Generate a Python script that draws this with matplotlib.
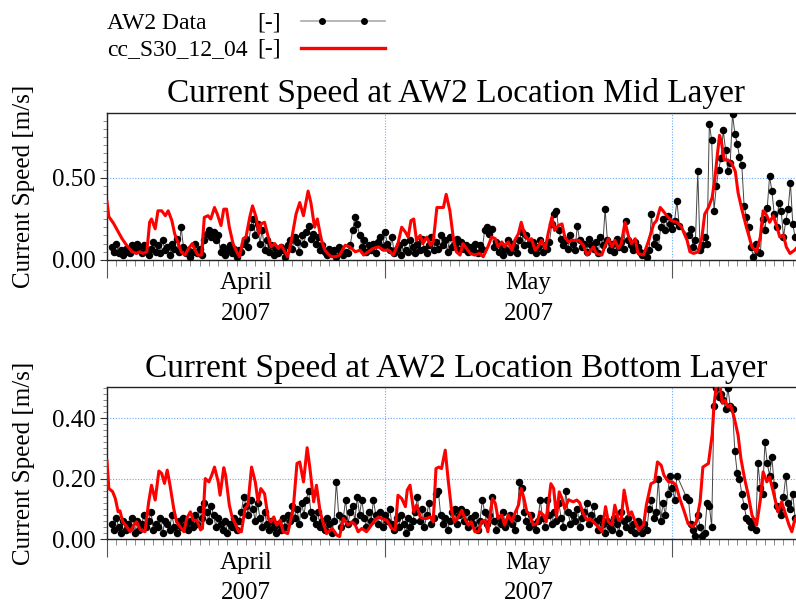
import numpy as np
import matplotlib
matplotlib.use("Agg")
import matplotlib.pyplot as plt
from matplotlib.ticker import MultipleLocator, FixedLocator, NullFormatter, FormatStrFormatter
from matplotlib.lines import Line2D

plt.rcParams['font.family'] = ['Liberation Serif', 'DejaVu Serif']

# ---------------- data (days since 2007-04-01) ----------------
month_starts = [0, 30, 61]
month_centers = [15, 45.5]
month_labels = ["April\n2007", "May\n2007"]

legend_obs = "AW2 Data"
legend_mod = "cc_S30_12_04"
legend_unit = "[-]"

titles = ["Current Speed at AW2 Location Mid Layer",
          "Current Speed at AW2 Location Bottom Layer"]
ylabel = "Current Speed [m/s]"

# model (red line): (day, speed)
model_mid = [
    (0.0, 0.355), (0.2, 0.264), (0.7, 0.224), (1.1, 0.183), (1.6, 0.132), (2.1, 0.091), (2.7, 0.05),
    (3.2, 0.04), (3.5, 0.05), (3.9, 0.04), (4.3, 0.05), (4.6, 0.23), (4.8, 0.25), (5.2, 0.19),
    (5.5, 0.30), (5.9, 0.30), (6.3, 0.27), (6.6, 0.30), (7.0, 0.24), (7.3, 0.16), (7.7, 0.10),
    (8.0, 0.05), (8.4, 0.03), (8.8, 0.07), (9.2, 0.10), (9.5, 0.06), (9.8, 0.03), (10.2, 0.03),
    (10.5, 0.26), (10.9, 0.27), (11.2, 0.25), (11.6, 0.32), (11.9, 0.28), (12.3, 0.21), (12.6, 0.31),
    (12.9, 0.31), (13.2, 0.20), (13.6, 0.10), (14.0, 0.05), (14.3, 0.02), (14.7, 0.13), (15.0, 0.14),
    (15.4, 0.26), (15.7, 0.33), (16.1, 0.26), (16.4, 0.16), (16.6, 0.22), (17.0, 0.23), (17.4, 0.14),
    (17.7, 0.08), (18.1, 0.10), (18.5, 0.07), (18.8, 0.09), (19.2, 0.05), (19.5, 0.02), (19.9, 0.12),
    (20.4, 0.28), (20.8, 0.35), (21.2, 0.27), (21.7, 0.42), (22.0, 0.35), (22.4, 0.20), (22.7, 0.25),
    (23.1, 0.13), (23.5, 0.06), (23.8, 0.04), (24.2, 0.02), (24.7, 0.02), (25.1, 0.03), (25.7, 0.09),
    (26.2, 0.08), (26.8, 0.05), (27.3, 0.06), (27.7, 0.03), (28.2, 0.05), (28.7, 0.07), (29.3, 0.08),
    (29.8, 0.06), (30.4, 0.06), (30.9, 0.03), (31.4, 0.10), (31.8, 0.20), (32.2, 0.17), (32.5, 0.14),
    (32.8, 0.24), (33.1, 0.25), (33.4, 0.12), (33.8, 0.15), (34.1, 0.10), (34.5, 0.14), (34.9, 0.09),
    (35.2, 0.11), (35.6, 0.32), (35.9, 0.32), (36.3, 0.32), (36.6, 0.40), (37.0, 0.30), (37.4, 0.12),
    (37.7, 0.05), (38.1, 0.03), (38.4, 0.10), (38.8, 0.07), (39.2, 0.04), (39.7, 0.03), (40.2, 0.04),
    (40.6, 0.02), (41.1, 0.08), (41.5, 0.14), (41.9, 0.13), (42.2, 0.08), (42.6, 0.11), (42.9, 0.08),
    (43.3, 0.11), (43.7, 0.06), (44.0, 0.12), (44.4, 0.16), (44.7, 0.23), (45.1, 0.15), (45.5, 0.12),
    (45.8, 0.13), (46.2, 0.06), (46.5, 0.08), (46.9, 0.12), (47.3, 0.07), (47.6, 0.16), (48.0, 0.26),
    (48.3, 0.18), (48.7, 0.21), (49.1, 0.22), (49.4, 0.14), (49.8, 0.11), (50.1, 0.12), (50.9, 0.12),
    (51.4, 0.09), (51.8, 0.03), (52.1, 0.05), (52.5, 0.08), (52.8, 0.04), (53.4, 0.03), (53.7, 0.08),
    (54.1, 0.13), (54.5, 0.08), (54.8, 0.12), (55.2, 0.07), (55.5, 0.10), (55.9, 0.23), (56.3, 0.14),
    (56.6, 0.10), (57.0, 0.13), (57.3, 0.04), (57.9, 0.03), (58.4, 0.11), (59.0, 0.22), (59.3, 0.24),
    (59.7, 0.32), (60.0, 0.30), (60.4, 0.27), (60.9, 0.24), (61.5, 0.23), (62.0, 0.20), (62.6, 0.12),
    (62.9, 0.05), (63.3, 0.04), (63.8, 0.05), (64.2, 0.14), (64.5, 0.28), (64.9, 0.32), (65.3, 0.38),
    (65.6, 0.50), (65.9, 0.66), (66.1, 0.76), (66.3, 0.72), (66.6, 0.61), (67.0, 0.61), (67.4, 0.59),
    (67.8, 0.54), (68.1, 0.41), (68.5, 0.31), (69.0, 0.20), (69.6, 0.08), (70.1, 0.05), (70.5, 0.14),
    (70.8, 0.30), (71.2, 0.27), (71.5, 0.23), (71.9, 0.27), (72.3, 0.20), (72.6, 0.14), (73.0, 0.15),
    (73.3, 0.08), (73.7, 0.04), (74.2, 0.06), (74.5, 0.08),
]

model_bot = [
    (0.0, 0.258), (0.2, 0.167), (0.6, 0.157), (0.9, 0.134), (1.2, 0.09), (1.4, 0.093), (1.7, 0.057),
    (2.0, 0.046), (2.5, 0.024), (2.9, 0.046), (3.2, 0.057), (3.6, 0.03), (4.1, 0.024), (4.5, 0.123),
    (4.8, 0.178), (5.2, 0.129), (5.6, 0.225), (5.9, 0.217), (6.2, 0.184), (6.5, 0.228), (6.8, 0.178),
    (7.2, 0.101), (7.5, 0.057), (7.9, 0.04), (8.3, 0.024), (8.6, 0.068), (9.0, 0.09), (9.3, 0.062),
    (9.7, 0.062), (10.1, 0.03), (10.3, 0.035), (10.6, 0.2), (11.0, 0.189), (11.3, 0.211), (11.6, 0.238),
    (12.0, 0.189), (12.2, 0.145), (12.6, 0.236), (12.8, 0.211), (13.2, 0.112), (13.5, 0.073), (13.9, 0.046),
    (14.2, 0.024), (14.5, 0.024), (14.9, 0.101), (15.2, 0.112), (15.6, 0.238), (16.0, 0.189), (16.3, 0.123),
    (16.6, 0.167), (17.0, 0.15), (17.4, 0.068), (17.7, 0.057), (18.0, 0.073), (18.3, 0.046), (18.7, 0.062),
    (19.0, 0.024), (19.5, 0.018), (20.1, 0.101), (20.5, 0.25), (20.8, 0.255), (21.2, 0.189), (21.6, 0.302),
    (21.9, 0.233), (22.3, 0.123), (22.6, 0.178), (23.0, 0.09), (23.4, 0.046), (23.7, 0.018), (24.3, 0.035),
    (24.8, 0.013), (25.1, 0.008), (25.5, 0.068), (26.0, 0.046), (26.4, 0.057), (26.8, 0.046), (27.1, 0.024),
    (27.5, 0.035), (28.0, 0.024), (28.4, 0.04), (28.9, 0.062), (29.3, 0.073), (29.6, 0.068), (30.2, 0.062),
    (30.7, 0.035), (31.1, 0.03), (31.4, 0.145), (31.8, 0.134), (32.2, 0.107), (32.4, 0.162), (32.7, 0.178),
    (33.1, 0.09), (33.4, 0.112), (33.8, 0.073), (34.1, 0.068), (34.5, 0.068), (34.9, 0.073), (35.2, 0.057),
    (35.5, 0.233), (35.8, 0.238), (36.1, 0.233), (36.5, 0.294), (36.8, 0.2), (37.2, 0.09), (37.5, 0.057),
    (37.9, 0.073), (38.3, 0.095), (38.6, 0.068), (39.0, 0.046), (39.3, 0.057), (39.7, 0.024), (40.1, 0.024),
    (40.4, 0.057), (40.8, 0.062), (41.1, 0.024), (41.6, 0.134), (41.9, 0.118), (42.2, 0.068), (42.6, 0.079),
    (42.9, 0.046), (43.3, 0.079), (43.7, 0.057), (44.0, 0.084), (44.4, 0.112), (44.7, 0.167), (45.0, 0.134),
    (45.3, 0.09), (45.6, 0.084), (46.0, 0.046), (46.4, 0.051), (46.7, 0.09), (47.1, 0.079), (47.4, 0.057),
    (47.9, 0.183), (48.2, 0.167), (48.5, 0.073), (48.8, 0.156), (49.1, 0.134), (49.4, 0.10), (49.8, 0.13),
    (50.3, 0.123), (50.7, 0.129), (51.0, 0.12), (51.4, 0.084), (51.8, 0.062), (52.1, 0.068), (52.5, 0.057),
    (53.0, 0.04), (53.4, 0.024), (53.8, 0.107), (54.1, 0.057), (54.5, 0.046), (54.8, 0.112), (55.2, 0.062),
    (55.5, 0.068), (55.8, 0.162), (56.3, 0.079), (56.6, 0.09), (57.0, 0.057), (57.4, 0.03), (57.9, 0.046),
    (58.2, 0.112), (58.7, 0.183), (59.1, 0.189), (59.4, 0.255), (59.8, 0.244), (60.1, 0.211), (60.6, 0.189),
    (61.0, 0.189), (61.4, 0.178), (61.8, 0.134), (62.3, 0.09), (62.7, 0.051), (63.2, 0.04), (63.6, 0.057),
    (64.0, 0.123), (64.3, 0.238), (64.9, 0.25), (65.3, 0.344), (65.5, 0.443), (65.8, 0.52), (66.1, 0.52),
    (66.4, 0.449), (66.7, 0.459), (67.0, 0.437), (67.3, 0.443), (67.7, 0.399), (68.1, 0.344), (68.4, 0.267),
    (68.8, 0.2), (69.2, 0.145), (69.6, 0.079), (70.1, 0.046), (70.5, 0.129), (70.8, 0.222), (71.2, 0.189),
    (71.5, 0.205), (71.9, 0.156), (72.4, 0.09), (72.8, 0.123), (73.2, 0.084), (73.6, 0.046), (73.9, 0.024),
    (74.2, 0.062), (74.5, 0.08),
]

# observations: 6-hourly samples starting at day 0.5 (nan = missing)
nan = float('nan')
obs_start, obs_step = 0.5, 0.25
obs_mid = [
    0.08, 0.05, 0.10, 0.04,  0.06, 0.03, 0.07, 0.05,  0.04, 0.09, 0.06, 0.10,  0.08, 0.04, 0.09, 0.06,
    0.03, 0.07, 0.11, 0.05,  0.09, 0.04, 0.12, 0.06,  0.08, 0.03, 0.10, 0.07,  0.13, 0.05, 0.20, 0.08,
    0.04, 0.06, 0.02, 0.05,  0.10, 0.04, 0.07, 0.03,  0.12, 0.16, 0.18, 0.14,  0.17, 0.12, 0.15, 0.05,
    0.08, 0.03, 0.06, 0.09,  0.04, 0.07, 0.02, 0.06,  0.05, 0.10, 0.13, 0.08,  0.20, 0.25, 0.15, 0.22,
    0.10, 0.18, 0.06, 0.12,  0.05, 0.09, 0.03, 0.07,  0.04, 0.08, 0.06, 0.02,  0.09, 0.12, 0.07, 0.14,
    0.11, 0.05, 0.15, 0.10,  0.17, 0.21, 0.13, 0.16,  0.10, 0.14, 0.06, 0.09,  0.05, 0.03, 0.07, 0.04,
    0.06, 0.02, 0.08, 0.05,  0.03, 0.05, 0.04, 0.09,  0.18, 0.26, 0.22, 0.15,  0.08, 0.12, 0.05, 0.09,
    0.06, 0.10, 0.04, 0.11,  0.14, 0.08, 0.17, 0.10,  0.06, 0.14, 0.04, 0.07,  0.09, 0.03, 0.11, 0.06,
    0.05, 0.12, 0.08, 0.04,  0.10, 0.06, 0.13, 0.07,  0.04, 0.09, 0.14, 0.06,  0.11, 0.07, 0.15, 0.09,
    0.12, 0.05, 0.14, 0.08,  0.10, 0.13, 0.06, 0.11,  0.07, 0.09, 0.05, 0.08,  0.06, 0.10, 0.04, 0.09,
    0.07, 0.18, 0.20, 0.16,  0.19, 0.08, 0.11, 0.05,  0.09, 0.03, 0.07, 0.12,  0.05, 0.10, 0.08, 0.04,
    0.12, 0.17, 0.09, 0.15,  0.10, 0.06, 0.11, 0.04,  0.08, 0.12, 0.05, 0.09,  0.07, 0.11, 0.22, 0.28,
    0.30, 0.18, 0.13, 0.09,  0.12, 0.07, 0.15, 0.10,  0.06, 0.21, 0.12, 0.08,  0.10, 0.05, 0.13, 0.09,
    0.07, 0.11, 0.04, 0.14,  0.09, 0.31, 0.12, 0.06,  0.10, 0.05, 0.13, 0.08,  0.11, 0.07, 0.24, 0.12,
    0.09, 0.06, 0.11, 0.08,  0.05, 0.03, 0.04, 0.02,  0.06, 0.28, 0.10, 0.14,  0.08, 0.20, 0.25, 0.18,
    0.27, 0.22, 0.19, 0.24,  0.36, 0.21, nan, nan,    nan, 0.15, 0.19, 0.08,  0.12, 0.54, 0.06, 0.09,
    0.14, 0.10, 0.83, 0.73,  0.30, 0.45, 0.55, 0.62,  0.79, 0.67, 0.54, 0.59,  0.89, 0.77, 0.71, 0.63,
    0.58, 0.33, 0.26, 0.20,  0.08, 0.02, 0.10, 0.05,  0.04, 0.25, 0.18, 0.32,  0.51, 0.42, 0.28, 0.20,
    0.35, 0.30, 0.14, 0.24,  0.31, 0.47, 0.22, 0.14,
]
obs_bot = [
    0.05, 0.03, 0.07, 0.04,  0.02, 0.06, 0.03, 0.05,  0.04, 0.07, 0.02, 0.06,  0.03, 0.05, 0.08, 0.04,
    0.06, 0.09, 0.03, 0.05,  0.04, 0.07, 0.02, 0.06,  0.05, 0.03, 0.08, 0.04,  0.02, 0.06, 0.04, 0.07,
    0.05, 0.03, 0.06, 0.04,  0.08, 0.05, 0.10, 0.07,  0.12, 0.09, 0.06, 0.11,  0.08, 0.04, 0.07, 0.05,
    0.03, 0.06, 0.02, 0.05,  0.04, 0.07, 0.03, 0.06,  0.09, 0.14, 0.11, 0.08,  0.13, 0.10, 0.06, 0.12,
    0.07, 0.04, 0.09, 0.05,  0.03, 0.06, 0.04, 0.02,  0.05, 0.03, 0.07, 0.04,  0.08, 0.06, 0.11, 0.07,
    0.10, 0.05, 0.12, 0.08,  0.13, 0.16, 0.09, 0.07,  0.05, 0.09, 0.04, 0.06,  0.03, 0.07, 0.05, 0.02,
    0.06, 0.19, 0.08, 0.04,  0.07, 0.13, 0.05, 0.09,  0.11, 0.06, 0.14, 0.08,  0.13, 0.07, 0.04, 0.09,
    0.06, 0.13, 0.08, 0.05,  0.09, 0.04, 0.08, 0.06,  0.10, 0.05, 0.03, 0.07,  0.04, 0.08, 0.05, 0.02,
    0.07, 0.04, 0.06, 0.09,  0.14, 0.06, 0.10, 0.04,  0.08, 0.12, 0.05, 0.07,  0.15, 0.16, 0.08, 0.05,
    0.07, 0.03, 0.06, 0.09,  0.10, 0.05, 0.08, 0.10,  0.06, 0.09, 0.04, 0.07,  0.05, 0.08, 0.03, 0.06,
    0.13, 0.09, 0.05, 0.08,  0.14, 0.06, 0.03, 0.07,  0.05, 0.09, 0.04, 0.06,  0.08, 0.05, 0.03, 0.07,
    0.19, 0.17, 0.09, 0.06,  0.04, 0.08, 0.05, 0.03,  0.06, 0.13, 0.07, 0.04,  0.13, 0.08, 0.05, 0.09,
    0.06, 0.12, 0.07, 0.04,  0.16, 0.09, 0.05, 0.08,  0.06, 0.10, 0.04, 0.07,  0.09, 0.12, 0.05, 0.08,
    0.11, 0.06, 0.03, 0.07,  0.05, 0.02, 0.06, 0.04,  0.03, 0.07, 0.05, 0.02,  0.09, 0.06, 0.04, 0.07,
    0.03, 0.05, 0.02, 0.06,  0.04, 0.02, 0.05, 0.03,  0.10, 0.13, 0.07, 0.09,  0.20, 0.06, 0.12, 0.08,
    0.15, 0.21, 0.17, 0.13,  0.21, nan, nan, nan,     0.14, 0.13, 0.05, 0.03,  0.01, 0.08, 0.04, 0.01,
    0.02, 0.12, 0.11, 0.04,  0.44, 0.50, 0.47, 0.48,  0.46, 0.43, 0.50, 0.44,  0.43, 0.29, 0.22, 0.20,
    0.15, 0.11, 0.07, 0.06,  0.04, 0.06, 0.03, 0.25,  0.17, 0.15, 0.32, 0.25,  0.21, 0.27, 0.18, 0.11,
    0.10, 0.08, 0.14, 0.21,  0.12, 0.10, 0.15, 0.07,
]

panels = [
    dict(model=model_mid, obs=obs_mid, ylim=(0, 0.896), major=0.5, minor=0.05, title=titles[0],
         pos=[107/796, 1-260/606, (805-107)/796, (260-113)/606], pad=8),
    dict(model=model_bot, obs=obs_bot, ylim=(0, 0.503), major=0.2, minor=0.02, title=titles[1],
         pos=[107/796, 1-539/606, (805-107)/796, (539-387)/606], pad=7.5),
]

fig = plt.figure(figsize=(7.96, 6.06), dpi=100)

for p in panels:
    ax = fig.add_axes(p['pos'])
    mt = np.array([a for a, b in p['model']])
    mv = np.array([b for a, b in p['model']])
    ov = np.array(p['obs'], dtype=float)
    ot = obs_start + obs_step * np.arange(len(ov))
    ok = ~np.isnan(ov)
    ax.plot(ot[ok], ov[ok], color='#444444', lw=0.7, zorder=2)
    ax.plot(ot[ok], ov[ok], 'o', color='black', ms=5.4, mew=0, zorder=3)
    ax.plot(mt, mv, color='#ff0000', lw=2.2, zorder=4)

    ax.set_xlim(0, (805-107)/9.267)
    ax.set_ylim(*p['ylim'])
    ax.xaxis.set_major_locator(FixedLocator(month_starts))
    ax.xaxis.set_minor_locator(MultipleLocator(1))
    ax.xaxis.set_major_formatter(NullFormatter())
    ax.yaxis.set_major_locator(MultipleLocator(p['major']))
    ax.yaxis.set_minor_locator(MultipleLocator(p['minor']))
    ax.yaxis.set_major_formatter(FormatStrFormatter('%.2f'))
    ax.tick_params(axis='x', which='major', length=13, width=0.8, color='#555555', direction='out')
    ax.tick_params(axis='x', which='minor', length=4, width=0.6, color='#777777', direction='out')
    ax.tick_params(axis='y', which='major', length=5, width=0.8, color='#333333', direction='out',
                   labelsize=18, pad=3)
    ax.tick_params(axis='y', which='minor', length=3, width=0.6, color='#777777', direction='out')
    ax.grid(True, which='major', color='#66aaff', linestyle=(0, (1, 1.5)), linewidth=0.8)
    ax.spines['right'].set_visible(False)
    for s in ('left', 'bottom', 'top'):
        ax.spines[s].set_linewidth(1.0)
        ax.spines[s].set_color('#222222')
    ax.set_title(p['title'], fontsize=24, pad=p['pad'])
    ax.set_ylabel(ylabel, fontsize=18)
    ax.yaxis.set_label_coords(-0.103, 0.5)
    for xc, lab in zip(month_centers, month_labels):
        ax.text(xc, -0.085, lab, transform=ax.get_xaxis_transform(), ha='center', va='top',
                fontsize=18, linespacing=1.5)

# legend (figure level, above panels)
W, H = 796, 606
rows = [(legend_obs, 29, 20.7, dict(color='#aaaaaa', lw=1.2), True),
        (legend_mod, 55, 47.7, dict(color='#ff0000', lw=2.4), False)]
for name, base, ly, style, dots in rows:
    fig.text(107/W, 1-base/H, name, fontsize=17, va='baseline', ha='left')
    fig.text(257/W, 1-base/H, legend_unit, fontsize=17, va='baseline', ha='left')
    fig.add_artist(Line2D([301/W, 385/W], [1-ly/H, 1-ly/H], transform=fig.transFigure, **style))
    if dots:
        fig.add_artist(Line2D([322/W, 364/W], [1-ly/H, 1-ly/H], transform=fig.transFigure,
                              linestyle='none', marker='o', ms=4, color='black'))

fig.savefig('out.png', dpi=100)
